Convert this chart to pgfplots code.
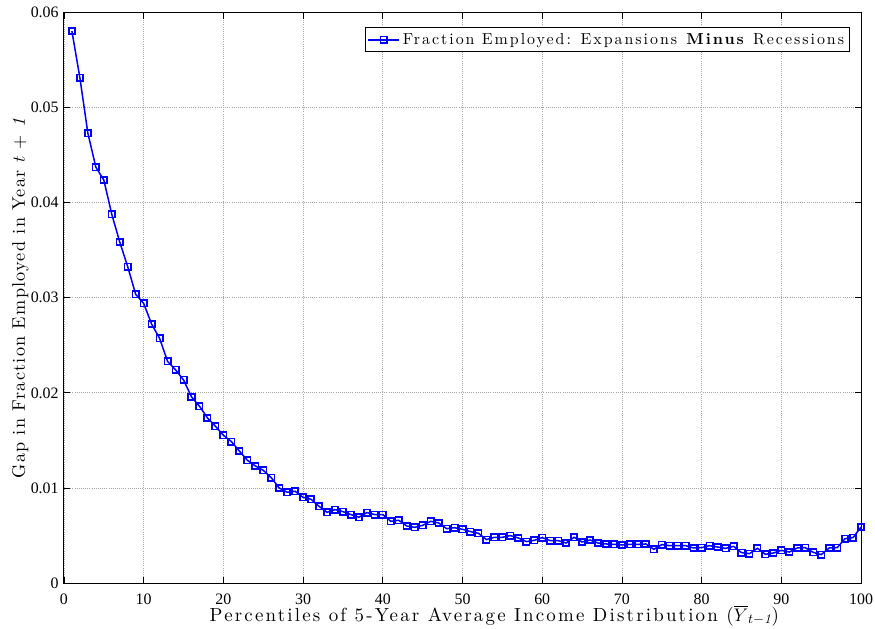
\documentclass[border=0pt]{standalone}
\usepackage{fontspec}
\setmainfont{lmroman10-regular.otf}[BoldFont=lmroman10-bold.otf, ItalicFont=lmroman10-italic.otf]
\usepackage{pgfplots}
\pgfplotsset{compat=1.18}
\newfontfamily\tnr{Liberation Serif}
\newcommand{\ls}[1]{\addfontfeatures{LetterSpace=#1}}
\begin{document}
\begin{tikzpicture}
\begin{axis}[
  name=ax,
  scale only axis,
  width=526pt, height=376.5pt,
  xmin=0, xmax=100, ymin=0, ymax=0.06,
  xtick={0,10,...,100},
  ytick={0,0.01,0.02,0.03,0.04,0.05,0.06},
  scaled y ticks=false,
  yticklabel style={/pgf/number format/fixed, /pgf/number format/precision=2},
  xticklabel style={yshift=-3.5pt},
  /pgf/number format/assume math mode=true,
  ticklabel style={font=\tnr\fontsize{10.5}{12}\selectfont},
  tick align=inside,
  major tick length=4pt,
  tick style={black, line width=0.5pt},
  axis line style={black, line width=0.7pt},
  grid=major,
  major grid style={densely dotted, gray!70, line width=0.5pt},
  xlabel={\ls{11.5}Percentiles of 5-Year Average Income Distribution ($\overline{Y}_{t-\mathit{1}}$)},
  ylabel={\ls{7}Gap in Fraction Employed in Year $t$ + \textit{1}},
  xlabel style={font=\fontsize{12.5}{14}\selectfont, yshift=6pt, xshift=21pt},
  ylabel style={font=\fontsize{12}{14}\selectfont, yshift=-5.5pt},
  legend style={at={(0.986,0.974)}, anchor=north east, draw=black, line width=0.7pt, fill=white,
    font=\fontsize{10.5}{12}\selectfont, inner sep=1.5pt},
  legend cell align=left,
  legend image code/.code={\draw[mark repeat=2,mark phase=2] plot coordinates {(0cm,0cm)(0.36cm,0cm)(0.72cm,0cm)};},
]
\addplot[blue, line width=1pt, mark=square, mark size=2.1pt, mark options={line width=1.1pt}] coordinates {
(1,0.05804)(2,0.05313)(3,0.04731)(4,0.04373)(5,0.04239)(6,0.03878)(7,0.03586)(8,0.03326)(9,0.03036)(10,0.02941)
(11,0.02723)(12,0.02573)(13,0.02331)(14,0.02242)(15,0.02137)(16,0.01958)(17,0.01860)(18,0.01737)(19,0.01649)(20,0.01555)
(21,0.01488)(22,0.01389)(23,0.01292)(24,0.01232)(25,0.01186)(26,0.01109)(27,0.01000)(28,0.00955)(29,0.00965)(30,0.00902)
(31,0.00881)(32,0.00807)(33,0.00744)(34,0.00772)(35,0.00751)(36,0.00720)(37,0.00692)(38,0.00741)(39,0.00720)(40,0.00720)
(41,0.00649)(42,0.00660)(43,0.00600)(44,0.00586)(45,0.00607)(46,0.00649)(47,0.00632)(48,0.00572)(49,0.00582)(50,0.00565)
(51,0.00541)(52,0.00523)(53,0.00457)(54,0.00481)(55,0.00481)(56,0.00499)(57,0.00474)(58,0.00436)(59,0.00449)(60,0.00478)
(61,0.00446)(62,0.00446)(63,0.00421)(64,0.00481)(65,0.00432)(66,0.00453)(67,0.00421)(68,0.00411)(69,0.00407)(70,0.00400)
(71,0.00407)(72,0.00407)(73,0.00411)(74,0.00355)(75,0.00404)(76,0.00393)(77,0.00393)(78,0.00393)(79,0.00369)(80,0.00372)
(81,0.00393)(82,0.00379)(83,0.00365)(84,0.00386)(85,0.00320)(86,0.00309)(87,0.00365)(88,0.00302)(89,0.00316)(90,0.00344)
(91,0.00326)(92,0.00369)(93,0.00372)(94,0.00323)(95,0.00299)(96,0.00369)(97,0.00372)(98,0.00467)(99,0.00478)(100,0.00589)
};
\addlegendentry{\ls{12.5}Fraction Employed: Expansions \textbf{Minus} Recessions}
\end{axis}
\pgfresetboundingbox
\path[use as bounding box] ([shift={(-42.2pt,-29.7pt)}]ax.south west) rectangle ([shift={(9.2pt,8.25pt)}]ax.north east);
\end{tikzpicture}
\end{document}
